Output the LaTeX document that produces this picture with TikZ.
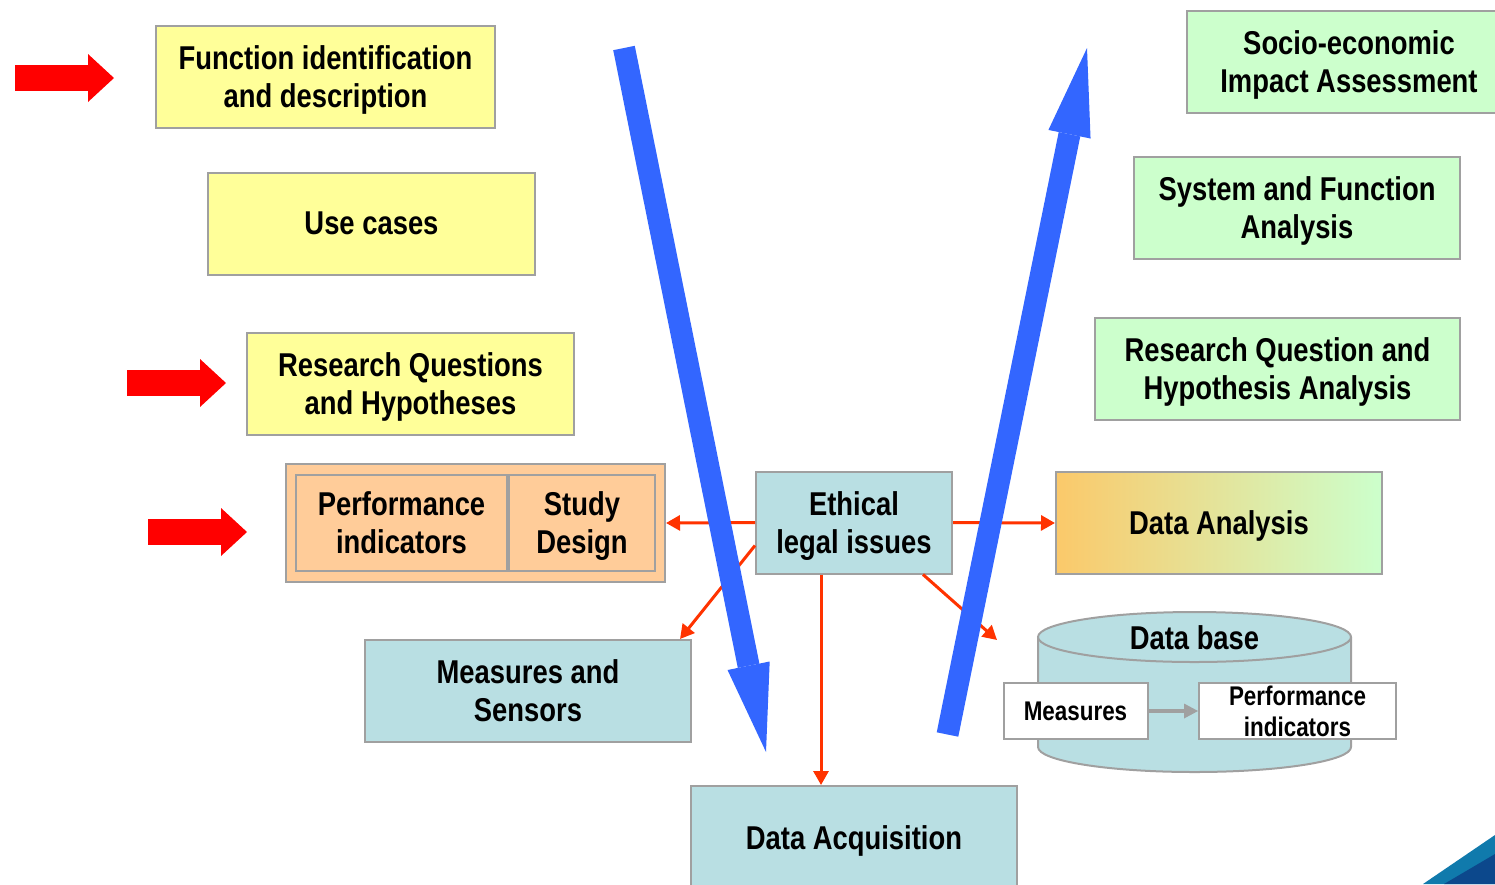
\documentclass[tikz,border=0pt]{standalone}
\usepackage{fontspec}
\setmainfont{Liberation Sans}[FakeStretch=0.83]
\usetikzlibrary{arrows.meta}

\definecolor{boxgray}{RGB}{160,160,160}
\definecolor{paleyellow}{RGB}{255,255,153}
\definecolor{palegreen}{RGB}{204,255,204}
\definecolor{paleblue}{RGB}{185,223,227}
\definecolor{paleorange}{RGB}{255,204,153}
\definecolor{anaorange}{RGB}{251,201,106}
\definecolor{linkred}{RGB}{255,51,0}
\definecolor{markred}{RGB}{255,0,0}
\definecolor{flowblue}{RGB}{51,102,255}
\definecolor{cornerlight}{RGB}{16,122,172}
\definecolor{cornerdark}{RGB}{12,72,140}

\begin{document}
\begin{tikzpicture}[x=1pt, y=-1pt,
    box/.style={draw=boxgray, line width=2pt, align=center, inner sep=0pt, text depth=-7pt,
        font=\fontsize{33}{38}\selectfont\bfseries},
    smallbox/.style={box, fill=white, text depth=-1pt, font=\fontsize{27}{31}\selectfont\bfseries},
    yellowbox/.style={box, fill=paleyellow, minimum width=327pt, minimum height=102pt},
    greenbox/.style={box, fill=palegreen, minimum height=102pt},
    bluebox/.style={box, fill=paleblue, minimum height=102pt},
    orangebox/.style={box, fill=paleorange, minimum height=96pt},
    link/.style={linkred, line width=3pt, -{Triangle[length=14pt, width=15pt]}},
    marker/.style={markred, line width=26pt, -{Triangle[length=26pt, width=48pt, line width=0pt]}},
    bigflow/.style={flowblue, line width=22pt, -{Triangle[length=88pt, width=43pt, line width=0pt]}}]

    \useasboundingbox (0,0) rectangle (1495,884);
    \clip (0,0) rectangle (1495,884);

    % left column
    \node[yellowbox, minimum width=339pt] (fid) at (325.5,77) {Function identification\\and description};
    \node[yellowbox] (usecases) at (371.5,223.5) {Use cases};
    \node[yellowbox] (rq) at (410.5,384) {Research Questions\\and Hypotheses};

    % study setup
    \node[box, fill=paleorange, minimum width=379pt, minimum height=118pt] (setup) at (475.5,523) {};
    \node[orangebox, minimum width=211pt] (pind) at (401.5,523) {Performance\\indicators};
    \node[orangebox, minimum width=146pt] (sdesign) at (582,523) {Study\\Design};

    % centre
    \node[bluebox, minimum width=196pt] (ethical) at (854,522.5) {Ethical\\legal issues};
    \node[bluebox, minimum width=326pt] (measures) at (528,691) {Measures and\\Sensors};
    \node[bluebox, minimum width=326pt, minimum height=104pt] (dacq) at (854,838) {Data Acquisition};

    % right column
    \node[greenbox, minimum width=324pt] (socio) at (1349,61.5) {Socio-economic\\Impact Assessment};
    \node[greenbox, minimum width=326pt] (sysfunc) at (1297,208) {System and Function\\Analysis};
    \node[greenbox, minimum width=365pt] (rqana) at (1277.5,369) {Research Question and\\Hypothesis Analysis};
    \node[box, left color=anaorange, right color=palegreen, minimum width=326pt, minimum height=102pt] (danalysis) at (1219,523) {Data Analysis};

    % data base
    \fill[paleblue] (1038,637) -- (1038,747) arc[start angle=180, end angle=360, x radius=156.5pt, y radius=25pt] -- (1351,637) -- cycle;
    \draw[boxgray, line width=2pt] (1038,637) -- (1038,747) arc[start angle=180, end angle=360, x radius=156.5pt, y radius=25pt] -- (1351,637);
    \draw[boxgray, line width=2pt, fill=paleblue] (1194.5,637) ellipse [x radius=156.5pt, y radius=25pt];
    \node[font=\fontsize{33}{38}\selectfont\bfseries] (dbase) at (1194.5,638) {Data base};
    \node[smallbox, minimum width=144pt, minimum height=56pt] (dbmeas) at (1075.5,711) {Measures};
    \node[smallbox, minimum width=197pt, minimum height=56pt] (dbpind) at (1297.5,711) {Performance\\indicators};
    \draw[boxgray, line width=4pt, -{Triangle[length=14pt, width=15pt, line width=0pt]}] (dbmeas) -- (dbpind);

    % links from ethical issues
    \coordinate (dbin) at (997,640);
    \draw[link] (ethical.west) -- (setup.east);
    \draw[link] (ethical.east) -- (danalysis.west);
    \draw[link] ([yshift=-23pt]ethical.west) -- ([xshift=-12pt]measures.north east);
    \draw[link] ([xshift=-33pt]ethical.south) -- ([xshift=-33pt]dacq.north);
    \draw[link] ([xshift=69pt]ethical.south) -- (dbin);

    % V flow
    \draw[bigflow] (624,48) -- (766,752);
    \draw[bigflow] (947.5,734.5) -- (1087,48);

    % red markers
    \draw[marker] (15,78) -- (114,78);
    \draw[marker] (127,383) -- (226,383);
    \draw[marker] (148,532) -- (247,532);

    % corner
    \fill[cornerlight] (1423,884) -- (1495,835) -- (1495,884) -- cycle;
    \fill[cornerdark] (1444,884) -- (1495,854) -- (1495,884) -- cycle;
\end{tikzpicture}
\end{document}
